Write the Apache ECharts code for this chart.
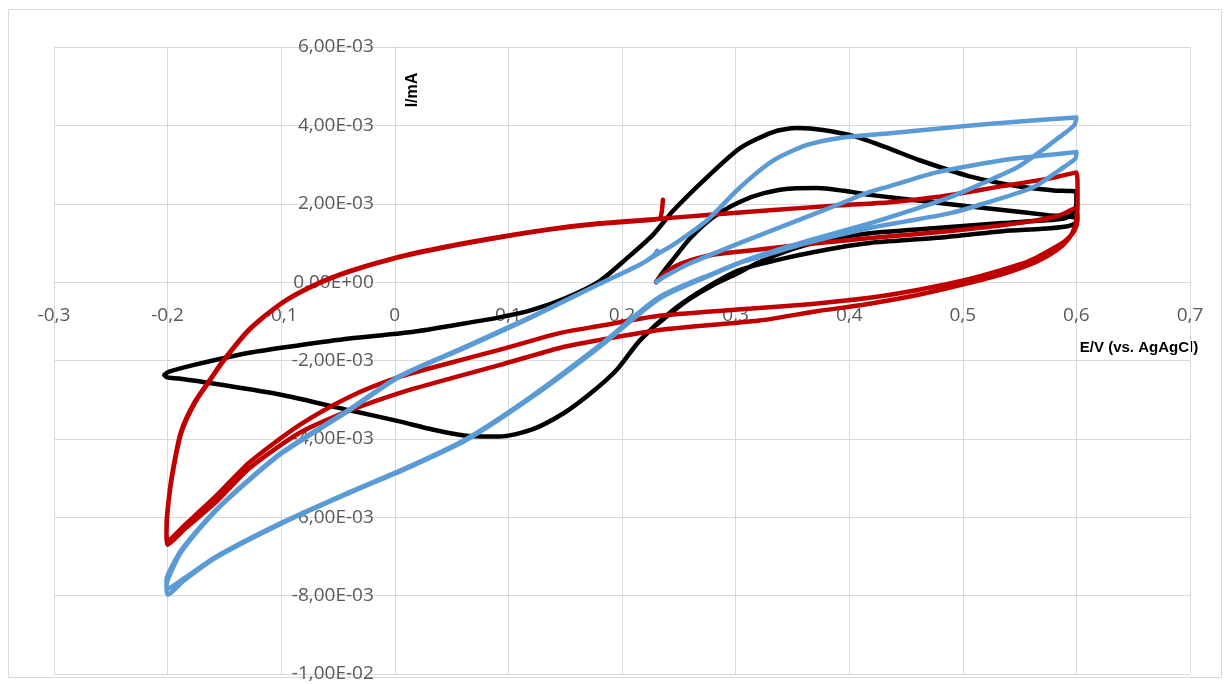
<!DOCTYPE html>
<html>
<head>
<meta charset="utf-8">
<script src="https://cdn.jsdelivr.net/npm/echarts@6/dist/echarts.min.js"></script>
<style>
html,body{margin:0;padding:0;background:#ffffff;}
#chart{width:1229px;height:684px;}
</style>
</head>
<body>
<div id="chart"></div>
<script>
// ---- axis ticks ----
const xMin = -0.3, xMax = 0.7, xStep = 0.1;
const yMin = -0.01, yMax = 0.006, yStep = 0.002;
const xTickLabels = ['-0,3','-0,2','-0,1','0','0,1','0,2','0,3','0,4','0,5','0,6','0,7'];
const yTickLabels = ['-1,00E-02','-8,00E-03','-6,00E-03','-4,00E-03','-2,00E-03','0,00E+00','2,00E-03','4,00E-03','6,00E-03'];
const xTitle = 'E/V (vs. AgAgCl)';
const yTitle = 'I/mA';

// ---- black series (potential E, current I) ----
const blackE = [
  0.230,0.236,0.245,0.260,0.280,0.304,0.325,0.350,0.372,0.395,0.420,0.470,0.535,0.575,0.600,
  0.599,0.591,0.570,0.535,0.477,0.418,0.392,0.348,0.304,0.275,0.245,0.216,0.195,0.174,0.150,0.121,0.092,0.063,0.033,0.005,-0.040,-0.099,-0.157,-0.190,-0.200,
  -0.203,-0.198,-0.172,-0.128,-0.084,-0.040,0.013,0.048,0.092,0.121,0.151,0.180,0.204,0.227,0.245,0.275,0.304,0.333,0.354,0.377,0.407,0.436,0.462,0.506,0.550,0.580,0.600,
  0.600,0.597,0.590,0.570,0.535,0.477,0.418,0.380,0.350,0.320,0.300,0.280,0.260,0.245,0.230
];
const blackI = [
  0.00e-3,0.25e-3,0.58e-3,1.12e-3,1.65e-3,2.05e-3,2.27e-3,2.39e-3,2.40e-3,2.33e-3,2.22e-3,2.05e-3,1.84e-3,1.71e-3,1.63e-3,
  1.50e-3,1.42e-3,1.36e-3,1.30e-3,1.13e-3,1.00e-3,0.89e-3,0.64e-3,0.31e-3,-0.13e-3,-0.71e-3,-1.48e-3,-2.25e-3,-2.80e-3,-3.32e-3,-3.76e-3,-3.94e-3,-3.92e-3,-3.76e-3,-3.56e-3,-3.27e-3,-2.88e-3,-2.60e-3,-2.46e-3,-2.43e-3,
  -2.37e-3,-2.28e-3,-2.08e-3,-1.80e-3,-1.61e-3,-1.44e-3,-1.28e-3,-1.12e-3,-0.90e-3,-0.71e-3,-0.40e-3,0.02e-3,0.60e-3,1.20e-3,1.82e-3,2.68e-3,3.42e-3,3.83e-3,3.93e-3,3.88e-3,3.70e-3,3.40e-3,3.11e-3,2.70e-3,2.44e-3,2.34e-3,2.30e-3,
  2.00e-3,1.76e-3,1.63e-3,1.57e-3,1.51e-3,1.38e-3,1.25e-3,1.08e-3,0.84e-3,0.50e-3,0.20e-3,-0.08e-3,-0.42e-3,-0.74e-3,-1.10e-3
];

// ---- red series ----
const redE = [
  0.230,0.235,0.242,0.251,0.265,0.280,0.300,0.321,0.360,0.392,0.436,0.480,0.520,0.560,0.585,0.600,
  0.601,0.598,0.590,0.579,0.565,0.550,0.506,0.460,0.418,0.370,0.321,0.233,0.180,0.145,0.092,0.050,0.004,-0.040,-0.084,-0.128,-0.157,-0.185,-0.200,
  -0.201,-0.200,-0.196,-0.188,-0.176,-0.163,-0.151,-0.128,-0.099,-0.069,-0.040,0.000,0.048,0.092,0.136,0.180,0.233,0.275,0.333,0.392,0.436,0.477,0.535,0.579,0.600,
  0.601,0.601,0.599,0.593,0.582,0.565,0.540,0.506,0.460,0.418,0.370,0.321,0.233,0.180,0.145,0.092,0.050,0.004,-0.040,-0.084,-0.128,-0.157,-0.185,-0.200,
  -0.201,-0.200,-0.196,-0.188,-0.176,-0.163,-0.151,-0.128,-0.099,-0.069,-0.040,0.000,0.048,0.092,0.136,0.180,0.222,0.233,0.235,0.236
];
const redI = [
  0.00e-3,0.15e-3,0.32e-3,0.46e-3,0.60e-3,0.70e-3,0.77e-3,0.83e-3,0.96e-3,1.05e-3,1.17e-3,1.28e-3,1.40e-3,1.55e-3,1.70e-3,1.90e-3,
  1.60e-3,1.30e-3,1.05e-3,0.85e-3,0.63e-3,0.45e-3,0.08e-3,-0.20e-3,-0.40e-3,-0.55e-3,-0.66e-3,-0.86e-3,-1.12e-3,-1.30e-3,-1.73e-3,-2.05e-3,-2.42e-3,-2.93e-3,-3.65e-3,-4.60e-3,-5.45e-3,-6.20e-3,-6.60e-3,
  -6.30e-3,-5.80e-3,-4.90e-3,-3.80e-3,-3.05e-3,-2.50e-3,-2.00e-3,-1.20e-3,-0.52e-3,-0.05e-3,0.28e-3,0.62e-3,0.92e-3,1.15e-3,1.35e-3,1.50e-3,1.62e-3,1.71e-3,1.84e-3,1.96e-3,2.04e-3,2.17e-3,2.45e-3,2.66e-3,2.80e-3,
  2.40e-3,1.90e-3,1.45e-3,1.10e-3,0.80e-3,0.52e-3,0.25e-3,-0.02e-3,-0.33e-3,-0.55e-3,-0.75e-3,-0.98e-3,-1.22e-3,-1.48e-3,-1.68e-3,-2.12e-3,-2.45e-3,-2.83e-3,-3.28e-3,-3.85e-3,-4.75e-3,-5.60e-3,-6.30e-3,-6.70e-3,
  -6.40e-3,-5.85e-3,-4.95e-3,-3.85e-3,-3.08e-3,-2.52e-3,-2.02e-3,-1.22e-3,-0.53e-3,-0.06e-3,0.27e-3,0.61e-3,0.91e-3,1.14e-3,1.34e-3,1.49e-3,1.58e-3,1.62e-3,1.80e-3,2.10e-3
];

// ---- blue series ----
const blueE = [
  0.230,0.240,0.260,0.280,0.304,0.348,0.392,0.418,0.436,0.477,0.535,0.570,0.594,0.600,
  0.599,0.585,0.562,0.518,0.489,0.450,0.418,0.363,0.321,0.304,0.280,0.233,0.180,0.121,0.063,0.013,-0.040,-0.099,-0.157,-0.185,-0.200,
  -0.201,-0.197,-0.187,-0.157,-0.128,-0.099,-0.040,0.004,0.063,0.121,0.180,0.216,0.233,0.245,0.275,0.304,0.333,0.363,0.392,0.436,0.500,0.550,0.600,
  0.598,0.585,0.570,0.548,0.518,0.489,0.447,0.418,0.363,0.321,0.280,0.233,0.180,0.121,0.063,0.013,-0.040,-0.099,-0.157,-0.185,-0.200,
  -0.201,-0.197,-0.187,-0.157,-0.128,-0.099,-0.040,0.004,0.063,0.121,0.180,0.216,0.228,0.231
];
const blueI = [
  0.00e-3,0.18e-3,0.48e-3,0.72e-3,1.00e-3,1.50e-3,2.00e-3,2.30e-3,2.45e-3,2.80e-3,3.11e-3,3.23e-3,3.30e-3,3.32e-3,
  3.15e-3,2.86e-3,2.42e-3,2.00e-3,1.76e-3,1.55e-3,1.38e-3,1.00e-3,0.64e-3,0.50e-3,0.20e-3,-0.42e-3,-1.66e-3,-2.93e-3,-4.03e-3,-4.72e-3,-5.38e-3,-6.15e-3,-7.02e-3,-7.60e-3,-7.98e-3,
  -7.75e-3,-7.40e-3,-6.84e-3,-5.82e-3,-5.05e-3,-4.36e-3,-3.27e-3,-2.42e-3,-1.66e-3,-0.89e-3,-0.05e-3,0.45e-3,0.75e-3,0.95e-3,1.58e-3,2.42e-3,3.10e-3,3.50e-3,3.68e-3,3.80e-3,3.98e-3,4.10e-3,4.20e-3,
  4.00e-3,3.70e-3,3.37e-3,2.93e-3,2.53e-3,2.17e-3,1.76e-3,1.50e-3,1.05e-3,0.68e-3,0.22e-3,-0.38e-3,-1.62e-3,-2.90e-3,-4.00e-3,-4.70e-3,-5.36e-3,-6.13e-3,-7.00e-3,-7.55e-3,-7.82e-3,
  -7.60e-3,-7.30e-3,-6.80e-3,-5.80e-3,-5.03e-3,-4.34e-3,-3.25e-3,-2.40e-3,-1.64e-3,-0.87e-3,-0.05e-3,0.45e-3,0.68e-3,0.80e-3
];

function pairs(E, I) { return E.map((e, k) => [e, I[k]]); }

const W = 1229, H = 684;
const gridL = 54, gridR = 39, gridT = 47, gridB = 10;
const gridW = W - gridL - gridR, gridH = H - gridT - gridB;
// the axes cross at zero: shift each axis from its grid edge to the zero of the other axis
const yAxisShift = (0 - xMin) / (xMax - xMin) * gridW;
const xAxisShift = (0 - yMin) / (yMax - yMin) * gridH;

const chart = echarts.init(document.getElementById('chart'), null, { renderer: 'canvas' });
const labelFont = "'Open Sans', 'Liberation Sans', sans-serif";
const gridColor = '#d9d9d9';

function lineSeries(name, E, I, color) {
  return {
    name: name,
    type: 'line',
    data: pairs(E, I),
    showSymbol: false,
    symbol: 'none',
    smooth: 0.25,
    clip: false,
    lineStyle: { color: color, width: 4.5, cap: 'round', join: 'round' },
    itemStyle: { color: color },
    emphasis: { disabled: true }
  };
}

chart.setOption({
  animation: false,
  backgroundColor: '#ffffff',
  grid: { left: gridL, right: gridR, top: gridT, bottom: gridB, containLabel: false, outerBoundsMode: 'none' },
  xAxis: {
    type: 'value', position: 'bottom', offset: -xAxisShift,
    min: xMin, max: xMax, interval: xStep,
    axisLine: { show: true, onZero: false, lineStyle: { color: gridColor, width: 1 } },
    axisTick: { show: false },
    splitLine: { show: true, lineStyle: { color: gridColor, width: 1 } },
    axisLabel: {
      margin: 24, color: '#595959', fontFamily: labelFont, fontSize: 19,
      showMinLabel: true, showMaxLabel: true, hideOverlap: false,
      formatter: function (v) { return xTickLabels[Math.round((v - xMin) / xStep)]; }
    }
  },
  yAxis: {
    type: 'value', position: 'left', offset: -yAxisShift,
    min: yMin, max: yMax, interval: yStep,
    axisLine: { show: true, onZero: false, lineStyle: { color: gridColor, width: 1 } },
    axisTick: { show: false },
    splitLine: { show: true, lineStyle: { color: gridColor, width: 1 } },
    axisLabel: {
      margin: 21, color: '#595959', fontFamily: labelFont, fontSize: 19,
      showMinLabel: true, showMaxLabel: true, hideOverlap: false,
      formatter: function (v) { return yTickLabels[Math.round((v - yMin) / yStep)]; }
    }
  },
  graphic: [
    { type: 'rect', silent: true, z: -10, shape: { x: 8.5, y: 9.5, width: 1213, height: 668 },
      style: { fill: null, stroke: gridColor, lineWidth: 1 } },
    { type: 'text', silent: true, x: 413, y: 90, rotation: Math.PI / 2,
      style: { text: yTitle, font: "bold 16px 'Liberation Sans', sans-serif", fill: '#000000', textAlign: 'center', textVerticalAlign: 'middle' } },
    { type: 'text', silent: true, x: 1139, y: 348,
      style: { text: xTitle, font: "bold 15px 'Liberation Sans', sans-serif", fill: '#000000', textAlign: 'center', textVerticalAlign: 'middle' } }
  ],
  series: [
    lineSeries('black', blackE, blackI, '#000000'),
    lineSeries('red', redE, redI, '#C00000'),
    lineSeries('blue', blueE, blueI, '#5B9BD5')
  ]
});
</script>
</body>
</html>
